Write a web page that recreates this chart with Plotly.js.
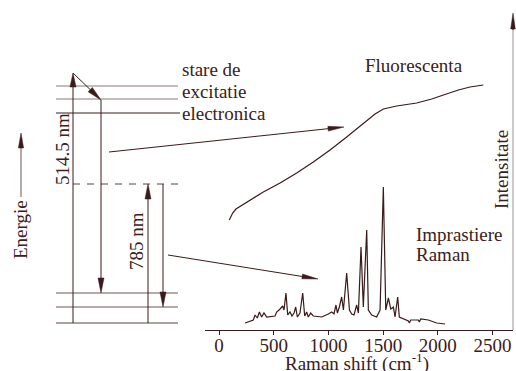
<!DOCTYPE html>
<html><head><meta charset="utf-8">
<script src="https://cdn.plot.ly/plotly-3.0.1.min.js"></script>
<style>html,body{margin:0;padding:0;background:#fff}#chart{width:516px;height:371px}</style>
</head><body><div id="chart"></div>
<script>
// Raman spectrum (cm-1, arbitrary intensity)
const ramanShift = [238,314,329,350,369,390,411,436,512,527,558,582,594,612,628,649,667,686,701,716,740,765,783,801,816,838,862,939,999,1030,1051,1069,1082,1100,1121,1137,1167,1192,1213,1234,1258,1274,1298,1319,1350,1365,1396,1441,1472,1502,1524,1548,1570,1594,1609,1633,1648,1685,1731,1740,1752,1822,1831,1844,1913,1990,2066];
const ramanIntensity = [7,10,15,12,18,13,17,13,14,18,21,24,20,37,15,18,14,17,23,13,17,37,14,18,13,17,14,13,16,18,16,25,17,23,33,20,57,20,16,15,25,17,83,23,100,20,15,13,20,143,20,32,21,23,13,33,13,11,9,7,10,10,8,11,10,7,6];
// Fluorescence background
const fluoShift = [94,125,155,283,405,558,710,862,1015,1167,1319,1426,1503,1624,1807,1944,2051,2188,2294,2416];
const fluoIntensity = [110,117,121,130,138,147,157,168,180,193,207,216,221,224,227,231,235,240,243,245];
// Axis ticks
const tickValues = [0,500,1000,1500,2000,2500];
const tickLabels = ['0','500','1000','1500','2000','2500'];

const W = 516, H = 371;
const FONT = '"Liberation Serif", "Times New Roman", Times, serif';
const INK = '#3b2020';
const LINE = '#3a1a1a';
const GREY = '#8a7878';
const FS = 19;
const X = v => v / W;
const Y = v => 1 - v / H;

const shapes = [];
const annotations = [];

function seg(x0, y0, x1, y1, color, dash) {
  shapes.push({type:'line', xref:'paper', yref:'paper', x0:X(x0), y0:Y(y0), x1:X(x1), y1:Y(y1),
    line:{color:color||LINE, width:1, dash:dash||'solid'}});
}
function arrow(x0, y0, x1, y1, len, half, color) {
  len = len || 14; half = half || 3;
  const dx = x1 - x0, dy = y1 - y0, d = Math.hypot(dx, dy);
  const ux = dx / d, uy = dy / d;
  const bx = x1 - ux * len, by = y1 - uy * len;
  seg(x0, y0, x1 - ux * len * 0.5, y1 - uy * len * 0.5, color);
  const px1 = bx - uy * half, py1 = by + ux * half;
  const px2 = bx + uy * half, py2 = by - ux * half;
  shapes.push({type:'path', xref:'paper', yref:'paper',
    path:`M${X(x1)},${Y(y1)} L${X(px1)},${Y(py1)} L${X(px2)},${Y(py2)} Z`,
    fillcolor:LINE, line:{color:LINE, width:0.5}});
}
function label(text, x, y, opts) {
  annotations.push(Object.assign({text:text, xref:'paper', yref:'paper', x:X(x), y:Y(y),
    showarrow:false, xanchor:'center', yanchor:'middle',
    font:{family:FONT, size:FS, color:INK}}, opts||{}));
}

// energy levels
seg(56, 86, 178, 86, GREY);
seg(56, 99, 178, 99, GREY);
seg(56, 113, 180, 113, LINE);
seg(73, 184, 178, 184, '#5a4444', '7px,7px');
seg(56, 293, 178, 293, '#6a5656');
seg(56, 307, 178, 307, '#6a5656');
seg(56, 323, 178, 323, '#5a4444');

// transitions
arrow(73, 323, 73, 73, 14, 3);
arrow(73, 73, 101, 100, 15, 3);
arrow(101, 100, 101, 293, 15, 3);
arrow(148, 323, 148, 184, 15, 3);
arrow(163, 184, 163, 307, 15, 3);
// Energie arrow
arrow(21, 197, 21, 133, 15, 2.6, '#6a5656');
// pointers to spectra
arrow(109, 152, 344, 127, 16, 2.4);
arrow(168, 255, 318, 279, 16, 2.4);
// intensity axis
seg(513, 330, 513, 24, '#a09090');
arrow(513, 30, 513, 13, 16, 2.3);

// texts
label('stare de', 180, 69.5, {xanchor:'left'});
label('excitatie', 180, 91.5, {xanchor:'left'});
label('electronica', 180, 113.5, {xanchor:'left'});
label('514.5 nm', 62, 149, {textangle:-90});
label('785 nm', 136, 241, {textangle:-90});
label('Energie', 20, 230, {textangle:-90});
label('Fluorescenta', 414, 65);
label('Imprastiere', 414, 234, {xanchor:'left'});
label('Raman', 414, 254, {xanchor:'left'});
label('Intensitate', 501, 170, {textangle:-90});
label('Raman shift (cm<sup>-1</sup>)', 357, 362);

const traces = [
  {x: fluoShift, y: fluoIntensity, type:'scatter', mode:'lines', line:{color:LINE, width:1.2}, hoverinfo:'skip'},
  {x: ramanShift, y: ramanIntensity, type:'scatter', mode:'lines', line:{color:LINE, width:1.2}, hoverinfo:'skip'}
];

const layout = {
  width: W, height: H,
  margin: {l:0, r:0, t:0, b:0},
  paper_bgcolor: '#fff', plot_bgcolor: 'rgba(0,0,0,0)',
  showlegend: false,
  font: {family: FONT, size: FS, color: INK},
  xaxis: {
    domain: [205 / W, 513 / W], range: [-128, 2687],
    showline: true, linecolor: LINE, linewidth: 1,
    ticks: 'outside', ticklen: 4, tickcolor: LINE,
    ticklabelstandoff: -6,
    tickvals: tickValues, ticktext: tickLabels,
    tickfont: {family: FONT, size: FS, color: INK},
    showgrid: false, zeroline: false, automargin: false
  },
  yaxis: {domain: [41 / H, 1], range: [0, 330], visible: false, fixedrange: true},
  shapes: shapes,
  annotations: annotations
};

Plotly.newPlot('chart', traces, layout, {staticPlot: true, displayModeBar: false});
</script>
</body></html>
